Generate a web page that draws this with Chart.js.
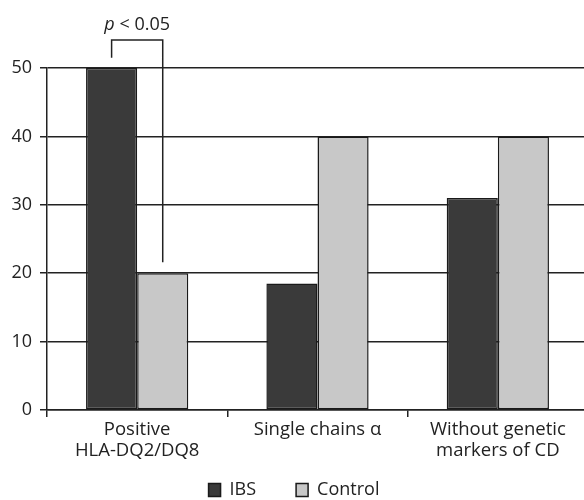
<!DOCTYPE html>
<html>
<head>
<meta charset="utf-8">
<script src="https://cdn.jsdelivr.net/npm/chart.js@4/dist/chart.umd.min.js"></script>
<style>
html,body{margin:0;padding:0;background:#fff;overflow:hidden;}
#wrap{width:588px;height:500px;}
</style>
</head>
<body>
<div id="wrap"><canvas id="c" width="588" height="500"></canvas></div>
<script>
const categories = [['Positive','HLA-DQ2/DQ8'], 'Single chains \u03B1', ['Without genetic','markers of CD']];
const seriesNames = ['IBS', 'Control'];
const ibsValues = [50, 18.5, 31];
const controlValues = [20, 40, 40];
const yTicks = [0, 10, 20, 30, 40, 50];
const annotationText = 'p < 0.05';
const bracketTop = 54.1, bracketLeftEnd = 51.5, bracketRightEnd = 21.6, annotationLabelY = 56.3;

const FONT = "'Open Sans', 'DejaVu Sans', sans-serif";
const INK = '#222';

const bracketPlugin = {
  id: 'bracket',
  afterDatasetsDraw(chart) {
    const ctx = chart.ctx;
    const y = chart.scales.y;
    const a = chart.getDatasetMeta(0).data[0];
    const b = chart.getDatasetMeta(1).data[0];
    const x1 = a.x, x2 = b.x;
    const yt = y.getPixelForValue(bracketTop);
    ctx.save();
    ctx.strokeStyle = INK;
    ctx.lineWidth = 1.5;
    ctx.beginPath();
    ctx.moveTo(x1, y.getPixelForValue(bracketLeftEnd));
    ctx.lineTo(x1, yt);
    ctx.lineTo(x2, yt);
    ctx.lineTo(x2, y.getPixelForValue(bracketRightEnd));
    ctx.stroke();
    const cx = (x1 + x2) / 2;
    const ty = y.getPixelForValue(annotationLabelY);
    ctx.fillStyle = INK;
    ctx.textBaseline = 'middle';
    const pPart = annotationText.slice(0, 1);
    const rest = annotationText.slice(1);
    ctx.font = 'italic 18px ' + FONT;
    const wp = ctx.measureText(pPart).width;
    ctx.font = '18px ' + FONT;
    const wr = ctx.measureText(rest).width;
    const sx = cx - (wp + wr) / 2;
    ctx.textAlign = 'left';
    ctx.font = 'italic 18px ' + FONT;
    ctx.fillText(pPart, sx, ty);
    ctx.font = '18px ' + FONT;
    ctx.fillText(rest, sx + wp, ty);
    ctx.restore();
  }
};

new Chart(document.getElementById('c'), {
  type: 'bar',
  data: {
    labels: categories,
    datasets: [
      { label: seriesNames[0], data: ibsValues, backgroundColor: '#3a3a3a', borderColor: '#1a1a1a', borderWidth: 1.5, borderSkipped: false },
      { label: seriesNames[1], data: controlValues, backgroundColor: '#c8c8c8', borderColor: '#1a1a1a', borderWidth: 1.5, borderSkipped: false }
    ]
  },
  options: {
    responsive: false,
    animation: false,
    layout: { padding: { top: 68, right: 0, left: 0, bottom: 0 } },
    datasets: { bar: { categoryPercentage: 0.567, barPercentage: 1.0 } },
    plugins: {
      tooltip: { enabled: false },
      legend: {
        position: 'bottom',
        maxHeight: 38,
        title: { display: true, text: '', font: { size: 18, lineHeight: 1.2 }, padding: { top: -21.3, bottom: -21.3 } },
        labels: {
          boxWidth: 12, boxHeight: 13, padding: 40,
          color: INK, font: { family: FONT, size: 18 }
        }
      }
    },
    scales: {
      x: {
        afterFit(scale) { scale.height = 52; },
        grid: { display: true, drawOnChartArea: false, drawTicks: true, tickLength: 7, color: INK, lineWidth: 1.5 },
        border: { display: true, color: INK, width: 1.5 },
        ticks: { color: INK, font: { family: FONT, size: 18.5, lineHeight: 1.14 }, maxRotation: 0, autoSkip: false, padding: 2 }
      },
      y: {
        min: 0, max: 50,
        afterBuildTicks(scale) { scale.ticks = yTicks.map(v => ({ value: v })); },
        afterFit(scale) { scale.width = 47; },
        grid: { color: INK, lineWidth: 1.5, tickLength: 7, drawTicks: true },
        border: { display: true, color: INK, width: 1.5 },
        ticks: { color: INK, font: { family: FONT, size: 18 }, padding: 8 }
      }
    }
  },
  plugins: [bracketPlugin]
});
</script>
</body>
</html>
